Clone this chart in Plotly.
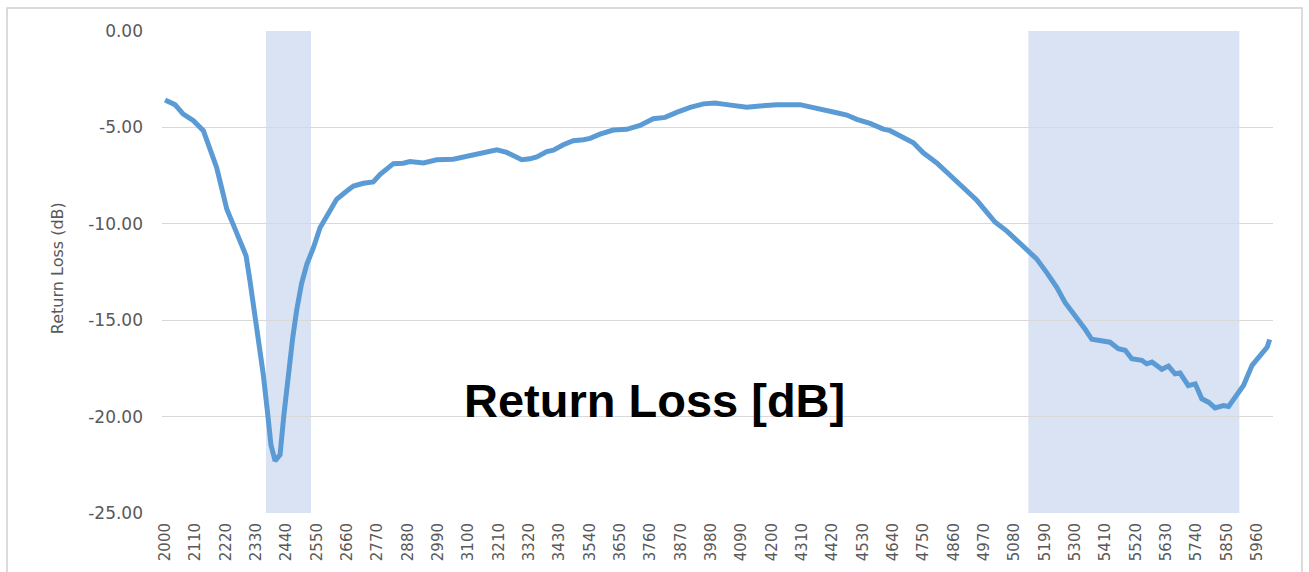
import plotly.graph_objects as go

# Frequency (MHz) and return loss (dB)
freq = [2000, 2036, 2066, 2103, 2139, 2163, 2187, 2205, 2224, 2247, 2272, 2294, 2308, 2326,
        2342, 2356, 2371, 2384, 2399, 2417, 2431, 2447, 2463, 2477, 2495, 2514, 2538, 2562,
        2586, 2622, 2659, 2683, 2719, 2755, 2780, 2828, 2864, 2888, 2937, 2985, 3045, 3106,
        3154, 3203, 3239, 3269, 3293, 3323, 3348, 3384, 3408, 3444, 3480, 3517, 3541, 3577,
        3625, 3674, 3722, 3770, 3813, 3855, 3904, 3952, 3994, 4037, 4060, 4109, 4157, 4218,
        4302, 4351, 4387, 4435, 4472, 4508, 4556, 4604, 4629, 4677, 4713, 4749, 4798, 4846,
        4894, 4943, 4979, 5009, 5052, 5088, 5124, 5160, 5196, 5233, 5263, 5306, 5336, 5360,
        5390, 5426, 5456, 5481, 5505, 5541, 5559, 5578, 5614, 5638, 5662, 5680, 5710, 5735,
        5759, 5783, 5807, 5837, 5856, 5880, 5910, 5941, 5971, 5996, 6005]
return_loss = [-3.58, -3.82, -4.31, -4.65, -5.17, -6.04, -7.08, -8.12, -9.25, -10.03, -10.9,
               -11.67, -12.97, -14.7, -16.1, -17.8, -19.7, -21.46, -22.3, -21.98, -19.9, -17.8,
               -15.9, -14.5, -13.1, -12.1, -11.24, -10.2, -9.59, -8.73, -8.3, -8.04, -7.9,
               -7.83, -7.43, -6.88, -6.86, -6.77, -6.84, -6.68, -6.65, -6.48, -6.34, -6.16,
               -6.3, -6.53, -6.68, -6.63, -6.53, -6.25, -6.18, -5.9, -5.69, -5.64, -5.57,
               -5.35, -5.14, -5.1, -4.9, -4.55, -4.48, -4.22, -3.96, -3.78, -3.73, -3.82,
               -3.87, -3.96, -3.89, -3.82, -3.82, -3.96, -4.05, -4.24, -4.36, -4.58, -4.79,
               -5.09, -5.17, -5.52, -5.8, -6.32, -6.84, -7.48, -8.09, -8.78, -9.39, -9.91,
               -10.38, -10.87, -11.35, -11.82, -12.52, -13.3, -14.08, -14.86, -15.47, -15.99,
               -16.06, -16.14, -16.48, -16.56, -17.0, -17.08, -17.26, -17.17, -17.55, -17.38,
               -17.78, -17.74, -18.39, -18.3, -19.08, -19.25, -19.55, -19.43, -19.48, -18.99,
               -18.39, -17.34, -16.82, -16.39, -16.0]

# Highlighted bands (MHz)
band_start = [2366, 5130]
band_end = [2529, 5895]

# Tick labels
x_ticks = [2000, 2110, 2220, 2330, 2440, 2550, 2660, 2770, 2880, 2990, 3100, 3210, 3320,
           3430, 3540, 3650, 3760, 3870, 3980, 4090, 4200, 4310, 4420, 4530, 4640, 4750,
           4860, 4970, 5080, 5190, 5300, 5410, 5520, 5630, 5740, 5850, 5960]
y_ticks = [0, -5, -10, -15, -20, -25]
y_tick_text = ["0.00", "-5.00", "-10.00", "-15.00", "-20.00", "-25.00"]

fig = go.Figure()
fig.add_trace(go.Scatter(
    x=freq, y=return_loss, mode="lines",
    line=dict(color="#5B9BD5", width=5),
    hoverinfo="x+y", showlegend=False,
))

shapes = []
for s, e in zip(band_start, band_end):
    shapes.append(dict(type="rect", xref="x", yref="paper", x0=s, x1=e, y0=0, y1=1,
                       fillcolor="#DAE3F3", line=dict(width=0), layer="between"))
# chart border
shapes.append(dict(type="rect", xref="paper", yref="paper",
                   x0=-0.1395, x1=1.0261, y0=-0.2, y1=1.0477,
                   line=dict(color="#D0D0D0", width=1.5), fillcolor="rgba(0,0,0,0)",
                   layer="above"))

fig.update_layout(
    width=1309, height=572, autosize=False,
    margin=dict(l=162, r=36, t=31, b=59),
    plot_bgcolor="white", paper_bgcolor="white",
    shapes=shapes,
    xaxis=dict(
        range=[1989, 6017], tickmode="array", tickvals=x_ticks,
        ticktext=[str(t) for t in x_ticks], tickangle=-90,
        showgrid=False, zeroline=False, showline=False,
        tickfont=dict(family="DejaVu Sans", size=15, color="#595959"),
        ticklabelstandoff=6,
    ),
    yaxis=dict(
        range=[-25, 0], tickmode="array", tickvals=y_ticks, ticktext=y_tick_text,
        showgrid=True, gridcolor="#D9D9D9", gridwidth=1.3, zeroline=False, showline=False,
        tickfont=dict(family="DejaVu Sans", size=17, color="#595959"),
        ticklabelstandoff=18,
    ),
    annotations=[
        dict(text="Return Loss (dB)", xref="paper", yref="paper", x=-0.0945, y=0.508,
             textangle=-90, showarrow=False, xanchor="center", yanchor="middle",
             font=dict(family="DejaVu Sans", size=16, color="#595959")),
        dict(text="<b>Return Loss [dB]</b>", xref="paper", yref="paper", x=0.4437, y=0.2344,
             showarrow=False, xanchor="center", yanchor="middle",
             font=dict(family="Liberation Sans", size=47, color="black")),
    ],
)

fig.write_html("out.html", config={"displayModeBar": False},
               post_script="document.body.style.margin='0';")
